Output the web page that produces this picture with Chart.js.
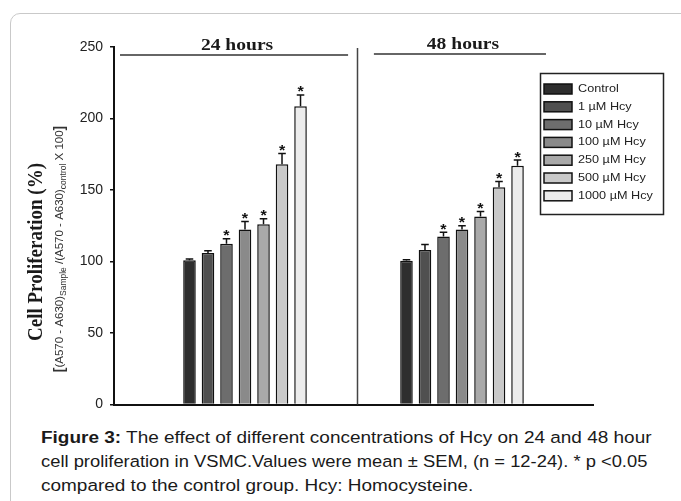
<!DOCTYPE html>
<html>
<head>
<meta charset="utf-8">
<script src="https://cdn.jsdelivr.net/npm/chart.js@4.4.1/dist/chart.umd.min.js"></script>
<style>
  html, body { margin: 0; padding: 0; background: #fff; }
  body { width: 681px; height: 501px; position: relative; overflow: hidden; }
  .card { position: absolute; left: 10px; top: 13px; width: 720px; height: 540px;
          border: 1px solid #c9c9c9; border-radius: 10px; }
  #chart { position: absolute; left: 0; top: 0; }
  .caption { position: absolute; left: 41px; top: 425px; width: 600px;
             font-family: "Liberation Sans", Arial, sans-serif; font-size: 16.3px;
             line-height: 24px; color: #1a1a1a; white-space: nowrap; }
  .caption div { transform: scaleX(1.165); transform-origin: 0 0; }
  .caption div.l2 { transform: scaleX(1.127); }
</style>
</head>
<body>
<div class="card"></div>
<canvas id="chart" width="681" height="420"></canvas>
<div class="caption">
  <div><b>Figure 3:</b> The effect of different concentrations of Hcy on 24 and 48 hour</div>
  <div class="l2">cell proliferation in VSMC.Values were mean &plusmn; SEM, (n = 12-24). * p &lt;0.05</div>
  <div>compared to the control group. Hcy: Homocysteine.</div>
</div>
<script>
// Zeitpunkte (Gruppen) und Behandlungen
var categories = ['24 hours', '48 hours'];
var treatments = ['Control', '1 \u00b5M Hcy', '10 \u00b5M Hcy', '100 \u00b5M Hcy', '250 \u00b5M Hcy', '500 \u00b5M Hcy', '1000 \u00b5M Hcy'];
var colors = ['#2e2e2e', '#505050', '#6d6d6d', '#8a8a8a', '#a9a9a9', '#c9c9c9', '#ececec'];

// Mittelwerte je Behandlung: [24 h, 48 h]
var means = [
    [101, 100.5],
    [106, 108],
    [112.5, 117.5],
    [122.5, 122.5],
    [126, 131.5],
    [168, 152],
    [208.5, 167]
];
// SEM je Behandlung: [24 h, 48 h]
var sem = [
    [0.8, 0.8],
    [1.5, 4],
    [3.5, 3],
    [5.5, 2.5],
    [4, 3.5],
    [7.5, 4],
    [8, 4]
];
// signifikant (p < 0.05) gegen Kontrolle
var significant = [
    [false, false],
    [false, false],
    [true, true],
    [true, true],
    [true, true],
    [true, true],
    [true, true]
];
var yTicks = [0, 50, 100, 150, 200, 250];

// Bild ist horizontal leicht gestreckt
var stretch = 1.15;

var datasets = treatments.map(function(name, t) {
    return {
        label: name,
        data: categories.map(function(c, i) { return { x: i, y: means[t][i] }; }),
        backgroundColor: colors[t],
        borderColor: '#111',
        borderWidth: 1.5,
        borderSkipped: 'bottom',
        categoryPercentage: 0.597,
        barPercentage: 0.68
    };
});

function stretchedText(ctx, text, x, y, align) {
    ctx.save();
    ctx.translate(x, y);
    ctx.scale(stretch, 1);
    ctx.textAlign = align;
    ctx.fillText(text, 0, 0);
    ctx.restore();
}

// Fehlerbalken und Sterne
var errorBars = {
    id: 'errorBars',
    afterDatasetsDraw: function(chart) {
        var ctx = chart.ctx;
        var yScale = chart.scales.y;
        ctx.save();
        ctx.strokeStyle = '#111';
        ctx.lineWidth = 1.5;
        ctx.fillStyle = '#111';
        ctx.font = 'bold 14px "Liberation Sans", Arial, sans-serif';
        ctx.textBaseline = 'alphabetic';
        chart.data.datasets.forEach(function(ds, t) {
            var meta = chart.getDatasetMeta(t);
            meta.data.forEach(function(bar, i) {
                var top = yScale.getPixelForValue(means[t][i] + sem[t][i]);
                var cap = bar.width * 0.3;
                ctx.beginPath();
                ctx.moveTo(bar.x, bar.y);
                ctx.lineTo(bar.x, top);
                ctx.moveTo(bar.x - cap, top);
                ctx.lineTo(bar.x + cap, top);
                ctx.stroke();
                if (significant[t][i]) {
                    stretchedText(ctx, '*', bar.x, top + 1.5, 'center');
                }
            });
        });
        ctx.restore();
    }
};

// Überschriften, Trennlinie, Achsentitel, Legende
var decorations = {
    id: 'decorations',
    afterDraw: function(chart) {
        var ctx = chart.ctx;
        var x = chart.scales.x;
        var area = chart.chartArea;
        ctx.save();

        // Trennlinie zwischen 24 h und 48 h
        var xd = Math.round(x.getPixelForValue(0.515)) + 0.5;
        ctx.strokeStyle = '#444';
        ctx.lineWidth = 1.5;
        ctx.beginPath();
        ctx.moveTo(xd, area.top + 1);
        ctx.lineTo(xd, area.bottom);
        ctx.stroke();

        // Gruppenüberschriften
        var spans = [[-0.576, 0.475, 55], [0.594, 1.387, 54]];
        ctx.font = 'bold 17px "Liberation Serif", "Times New Roman", serif';
        ctx.fillStyle = '#1a1a1a';
        ctx.textBaseline = 'alphabetic';
        categories.forEach(function(label, i) {
            var x0 = x.getPixelForValue(spans[i][0]);
            var x1 = x.getPixelForValue(spans[i][1]);
            ctx.strokeStyle = '#333';
            ctx.lineWidth = 1.5;
            ctx.beginPath();
            ctx.moveTo(x0, spans[i][2]);
            ctx.lineTo(x1, spans[i][2]);
            ctx.stroke();
            stretchedText(ctx, label, (x0 + x1) / 2 + 3, spans[i][2] - 5, 'center');
        });

        // y-Achsentitel
        ctx.save();
        ctx.translate(36, 252);
        ctx.rotate(-Math.PI / 2);
        ctx.scale(1, stretch);
        ctx.font = 'bold 19px "Liberation Serif", "Times New Roman", serif';
        ctx.textBaseline = 'middle';
        ctx.textAlign = 'center';
        ctx.fillText('Cell Proliferation (%)', 0, 0);
        ctx.restore();

        // Formelzeile mit Indizes
        var parts = [
            ['[', 'bold 14px "Liberation Sans", Arial, sans-serif', 0],
            ['(A570 - A630)', '11.5px "Liberation Sans", Arial, sans-serif', 0],
            ['Sample', '8.5px "Liberation Sans", Arial, sans-serif', 3.5],
            [' /(A570 - A630)', '11.5px "Liberation Sans", Arial, sans-serif', 0],
            ['control', '8.5px "Liberation Sans", Arial, sans-serif', 3.5],
            [' X 100', '11.5px "Liberation Sans", Arial, sans-serif', 0],
            [']', 'bold 14px "Liberation Sans", Arial, sans-serif', 0]
        ];
        var total = 0;
        parts.forEach(function(p) { ctx.font = p[1]; total += ctx.measureText(p[0]).width; });
        ctx.save();
        ctx.translate(60, 249);
        ctx.rotate(-Math.PI / 2);
        ctx.textAlign = 'left';
        ctx.textBaseline = 'middle';
        ctx.fillStyle = '#333';
        var pos = -total / 2;
        parts.forEach(function(p) {
            ctx.font = p[1];
            ctx.fillText(p[0], pos, p[2]);
            pos += ctx.measureText(p[0]).width;
        });
        ctx.restore();

        // Legende
        ctx.strokeStyle = '#222';
        ctx.lineWidth = 1.5;
        ctx.strokeRect(540.5, 73.5, 123, 141);
        ctx.font = '11px "Liberation Sans", Arial, sans-serif';
        ctx.textBaseline = 'middle';
        chart.data.datasets.forEach(function(ds, t) {
            var cy = 89 + t * 17.8;
            ctx.fillStyle = ds.backgroundColor;
            ctx.fillRect(544, cy - 5, 28, 10);
            ctx.strokeStyle = '#111';
            ctx.strokeRect(544, cy - 5, 28, 10);
            ctx.fillStyle = '#222';
            stretchedText(ctx, ds.label, 578, cy, 'left');
        });
        ctx.restore();
    }
};

new Chart(document.getElementById('chart').getContext('2d'), {
    type: 'bar',
    data: { datasets: datasets },
    options: {
        responsive: false,
        animation: false,
        devicePixelRatio: 1,
        layout: { padding: { left: 74, right: 88, top: 47, bottom: 14 } },
        plugins: { legend: { display: false }, tooltip: { enabled: false } },
        scales: {
            x: {
                type: 'linear',
                offset: false,
                min: -0.6037,
                max: 1.6037,
                afterBuildTicks: function(scale) {
                    scale.ticks = categories.map(function(c, i) { return { value: i }; });
                },
                afterFit: function(scale) { scale.height = 0; },
                ticks: { display: false },
                grid: { display: false, offset: false },
                border: { display: true, color: '#111', width: 2 }
            },
            y: {
                min: 0,
                max: 250,
                afterBuildTicks: function(scale) {
                    scale.ticks = yTicks.map(function(v) { return { value: v }; });
                },
                afterFit: function(scale) { scale.width = 40; },
                ticks: {
                    padding: 7,
                    color: '#222',
                    font: { family: '"Liberation Sans", Arial, sans-serif', size: 14 }
                },
                grid: { drawOnChartArea: false, drawTicks: true, tickLength: 4, color: '#111', lineWidth: 1.5 },
                border: { display: true, color: '#111', width: 2 }
            }
        }
    },
    plugins: [errorBars, decorations]
});
</script>
</body>
</html>
